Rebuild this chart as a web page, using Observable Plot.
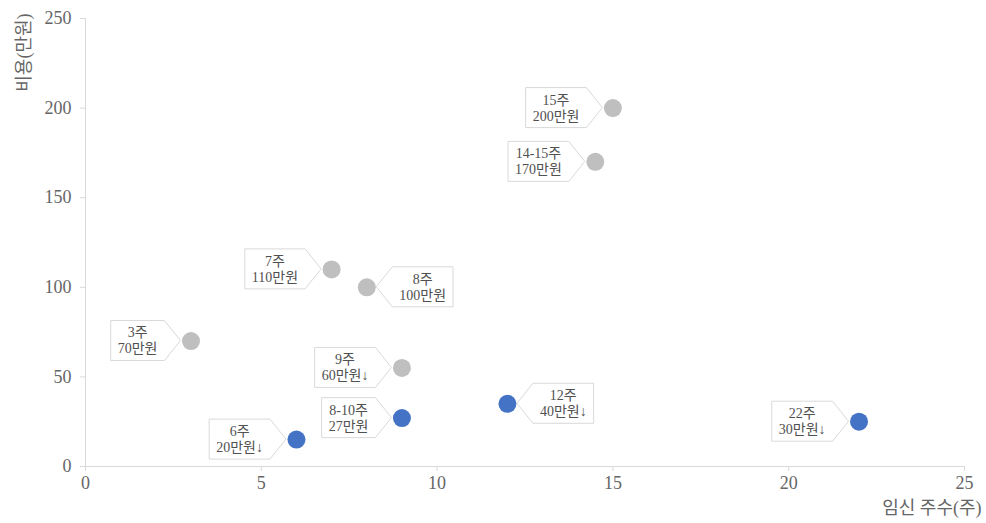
<!DOCTYPE html>
<html>
<head>
<meta charset="utf-8">
<script src="https://cdn.jsdelivr.net/npm/d3@7"></script>
<script src="https://cdn.jsdelivr.net/npm/@observablehq/plot@0.6"></script>
<style>
  html, body { margin: 0; padding: 0; background: #fff; }
</style>
</head>
<body>
<div id="chart"></div>
<script>
// ---- data ----
const weeks      = [3, 7, 8, 9, 14.5, 15, 6, 9, 12, 22];
const costs      = [70, 110, 100, 55, 170, 200, 15, 27, 35, 25];
const groups     = ["A", "A", "A", "A", "A", "A", "B", "B", "B", "B"];
const weekLabels = ["3주", "7주", "8주", "9주", "14-15주", "15주", "6주", "8-10주", "12주", "22주"];
const costLabels = ["70만원", "110만원", "100만원", "60만원↓", "170만원", "200만원", "20만원↓", "27만원", "40만원↓", "30만원↓"];
const xTicks = [0, 5, 10, 15, 20, 25];
const yTicks = [0, 50, 100, 150, 200, 250];
const xTitle = "임신 주수(주)";
const yTitle = "비용(만원)";

// labels placed on the right side of their point
const rightSideLabels = ["8주", "12주"];

const rows = weeks.map((w, i) => ({week: w, cost: costs[i], group: groups[i], wl: weekLabels[i], cl: costLabels[i]}));

const FONT = "'Liberation Serif', 'Noto Sans CJK KR', serif";

function callouts(index, scales) {
  const g = d3.create("svg:g");
  const ctx = document.createElement("canvas").getContext("2d");
  const fs = 14;
  ctx.font = `${fs}px ${FONT}`;
  const gap = 10, arrow = 16, h = 40, pad = 7;
  rows.forEach((d) => {
    const px = scales.x(d.week), py = scales.y(d.cost);
    const side = rightSideLabels.includes(d.wl) ? 1 : -1;
    const tw = Math.max(ctx.measureText(d.wl).width, ctx.measureText(d.cl).width) + pad * 2;
    const tip = px + side * gap;
    const base = tip + side * arrow;
    const far = base + side * tw;
    const path = d3.path();
    path.moveTo(tip, py);
    path.lineTo(base, py - h / 2);
    path.lineTo(far, py - h / 2);
    path.lineTo(far, py + h / 2);
    path.lineTo(base, py + h / 2);
    path.closePath();
    g.append("path")
      .attr("d", path.toString())
      .attr("fill", "#ffffff")
      .attr("stroke", "#d9d9d9")
      .attr("stroke-width", 1);
    const cx = (base + far) / 2;
    const t = g.append("text")
      .attr("text-anchor", "middle")
      .attr("font-family", FONT)
      .attr("font-size", fs)
      .attr("fill", "#505050");
    t.append("tspan").attr("x", cx).attr("y", py - 8).attr("dy", "0.35em").text(d.wl);
    t.append("tspan").attr("x", cx).attr("y", py + 8).attr("dy", "0.35em").text(d.cl);
  });
  return g.node();
}

const chart = Plot.plot({
  width: 986,
  height: 523,
  marginLeft: 85,
  marginRight: 22,
  marginTop: 18,
  marginBottom: 57,
  style: {fontFamily: FONT, background: "#ffffff", overflow: "visible"},
  x: {domain: [0, 25]},
  y: {domain: [0, 250]},
  color: {domain: ["A", "B"], range: ["#bfbfbf", "#4472c4"]},
  marks: [
    Plot.ruleX([0], {stroke: "#d9d9d9"}),
    Plot.ruleY([0], {stroke: "#d9d9d9"}),
    Plot.axisX({ticks: xTicks, tickSize: 5, tickPadding: 5, fontSize: 18, stroke: "#d9d9d9", fill: "#666666", label: null}),
    Plot.axisY({ticks: yTicks, tickSize: 5, tickPadding: 9, fontSize: 18, stroke: "#d9d9d9", fill: "#666666", label: null}),
    Plot.text([xTitle], {frameAnchor: "bottom-right", textAnchor: "end", dx: 17, dy: 47, fontSize: 18, fill: "#666666"}),
    Plot.text([yTitle], {frameAnchor: "top-left", textAnchor: "end", rotate: -90, dx: -68, dy: -5, fontSize: 18, fill: "#666666"}),
    callouts,
    Plot.dot(rows, {x: "week", y: "cost", fill: "group", r: 9, stroke: "none"})
  ]
});
document.getElementById("chart").appendChild(chart);
</script>
</body>
</html>
